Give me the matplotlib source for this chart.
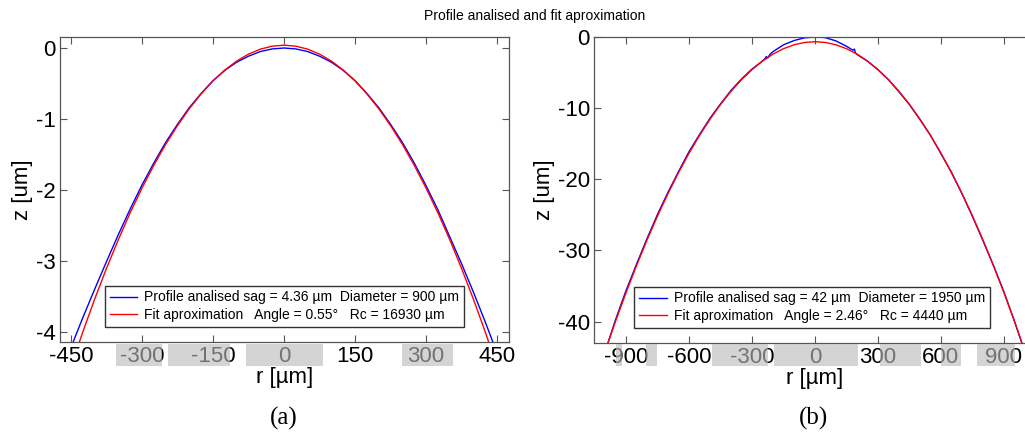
import matplotlib
matplotlib.use("Agg")
import matplotlib.pyplot as plt
from matplotlib.patches import Rectangle

plt.rcParams['font.family'] = ['Liberation Sans', 'DejaVu Sans']
plt.rcParams['axes.unicode_minus'] = False

# ---- datos panel (a) ----
r_a = [-450, -425, -400, -375, -350, -325, -300, -275, -250, -225, -200, -175,
       -150, -125, -100, -75, -50, -25, 0, 25, 50, 75, 100, 125, 150, 175,
       200, 225, 250, 275, 300, 325, 350, 375, 400, 425, 450]
z_perfil_a = [-4.22, -3.80, -3.40, -3.01, -2.63, -2.27, -1.93, -1.62, -1.33,
              -1.075, -0.84, -0.64, -0.46, -0.315, -0.20, -0.115, -0.05, -0.013,
              0.0, -0.013, -0.05, -0.115, -0.20, -0.315, -0.46, -0.64, -0.84,
              -1.075, -1.33, -1.62, -1.94, -2.28, -2.66, -3.04, -3.44, -3.86, -4.30]
z_ajuste_a = [-4.491, -4.001, -3.540, -3.106, -2.701, -2.323, -1.974, -1.652,
              -1.358, -1.093, -0.855, -0.645, -0.463, -0.310, -0.184, -0.086,
              -0.016, 0.026, 0.04, 0.026, -0.016, -0.086, -0.184, -0.310, -0.463,
              -0.645, -0.855, -1.093, -1.358, -1.652, -1.974, -2.323, -2.701,
              -3.106, -3.540, -4.001, -4.491]

# ---- datos panel (b) ----
r_b = [-990, -950, -900, -850, -800, -750, -700, -650, -600, -550, -500, -450,
       -400, -350, -300, -260, -240, -232, -225, -215, -200, -150, -100, -50,
       0, 20, 50, 100, 150, 180, 188, 192, 200, 250, 300, 350, 400, 450, 500,
       550, 600, 650, 700, 750, 800, 850, 900, 950, 990]
z_perfil_b = [-43.3, -39.7, -35.6, -31.9, -28.3, -24.9, -21.8, -18.9, -16.1, -13.7,
              -11.4, -9.4, -7.5, -5.9, -4.5, -3.6, -3.1, -2.75, -2.95, -2.45,
              -2.05, -1.10, -0.50, -0.12, 0.0, 0.0, -0.10, -0.55, -1.30, -1.85,
              -1.70, -2.20, -2.45, -3.40, -4.60, -6.00, -7.70, -9.50, -11.60,
              -13.80, -16.40, -19.00, -22.00, -25.20, -28.60, -32.10, -35.80,
              -39.90, -43.40]
r_b_fit = [-1050, -1000, -950, -900, -850, -800, -750, -700, -650, -600, -550,
           -500, -450, -400, -350, -300, -250, -200, -150, -100, -50, 0,
           50, 100, 150, 200, 250, 300, 350, 400, 450, 500, 550, 600, 650,
           700, 750, 800, 850, 900, 950, 1000, 1050]
z_ajuste_b = [-48.62, -44.16, -39.92, -35.90, -32.09, -28.50, -25.13, -21.98,
              -19.04, -16.32, -13.82, -11.54, -9.47, -7.62, -5.99, -4.58, -3.38,
              -2.40, -1.64, -1.10, -0.77, -0.66,
              -0.77, -1.10, -1.64, -2.40, -3.38, -4.58, -5.99, -7.62, -9.47,
              -11.54, -13.82, -16.32, -19.04, -21.98, -25.13, -28.50, -32.09,
              -35.90, -39.92, -44.16, -48.62]

ticks_a = [-450, -300, -150, 0, 150, 300, 450]
ticks_b = [-900, -600, -300, 0, 300, 600, 900]
yticks_a = [-4, -3, -2, -1, 0]
yticks_b = [-40, -30, -20, -10, 0]

etiqueta_perfil_a = "Profile analised sag = 4.36 µm  Diameter = 900 µm"
etiqueta_ajuste_a = "Fit aproximation   Angle = 0.55°   Rc = 16930 µm"
etiqueta_perfil_b = "Profile analised sag = 42 µm  Diameter = 1950 µm"
etiqueta_ajuste_b = "Fit aproximation   Angle = 2.46°   Rc = 4440 µm"

W, H = 1025, 432
fig = plt.figure(figsize=(W / 100, H / 100), dpi=100)


def caja(x0, y0, x1, y1):
    # convierte pixeles a fraccion de figura
    return [x0 / W, 1 - y1 / H, (x1 - x0) / W, (y1 - y0) / H]


ax1 = fig.add_axes(caja(60, 37, 509, 342))
ax2 = fig.add_axes(caja(594, 37, 1036, 343))


def estilo(ax, xt, yt, xlim, ylim):
    ax.set_xlim(xlim)
    ax.set_ylim(ylim)
    ax.set_xticks(xt)
    ax.set_yticks(yt)
    ax.tick_params(direction='in', length=5, width=0.8, top=True, right=True,
                   labelsize=16, pad=3, color='#555555')
    for s in ax.spines.values():
        s.set_color('#555555')
        s.set_linewidth(0.9)
    ax.set_xlabel("r [µm]", fontsize=16, labelpad=0)
    ax.set_ylabel("z [um]", fontsize=16, labelpad=2)


leyenda = dict(fontsize=10, fancybox=False, edgecolor='#333333', framealpha=1,
               borderpad=0.35, labelspacing=0.25, handlelength=2.0,
               handletextpad=0.5, borderaxespad=0)

# Panel (a)
ax1.plot(r_a, z_perfil_a, color='blue', lw=1.0, label=etiqueta_perfil_a)
ax1.plot(r_a, z_ajuste_a, color='red', lw=1.0, label=etiqueta_ajuste_a)
estilo(ax1, ticks_a, yticks_a, (-473, 475), (-4.14, 0.155))
ax1.legend(loc='lower center', bbox_to_anchor=(0.5, 0.05), **leyenda)

# Panel (b)
ax2.plot(r_b, z_perfil_b, color='blue', lw=1.0, label=etiqueta_perfil_b)
ax2.plot(r_b_fit, z_ajuste_b, color='red', lw=1.0, label=etiqueta_ajuste_b)
estilo(ax2, ticks_b, yticks_b, (-1053, 1053), (-43.0, 0))
ax2.legend(loc='lower left', bbox_to_anchor=(40 / 442, 0.05), **leyenda)

# Titulo general
fig.text(535 / W, 1 - 16 / H, "Profile analised and fit aproximation",
         ha='center', va='center', fontsize=10)

# Rotulos (a) y (b)
fig.text(284 / W, 1 - 418 / H, "(a)", ha='center', va='center', fontsize=18,
         family='Liberation Serif')
fig.text(813 / W, 1 - 418 / H, "(b)", ha='center', va='center', fontsize=18,
         family='Liberation Serif')

# Cajas grises sobre las etiquetas del eje x
cajas_grises = [(116, 162), (168, 230), (246, 323), (402, 453),
                (616, 622), (646, 657), (712, 768), (774, 858),
                (880, 921), (941, 961), (977, 1015)]
for x0, x1 in cajas_grises:
    fig.patches.append(Rectangle((x0 / W, 1 - 366 / H), (x1 - x0) / W, 22 / H,
                                 transform=fig.transFigure, color='#bababa',
                                 alpha=0.62, lw=0, zorder=10))

fig.savefig("out.png", dpi=100)
